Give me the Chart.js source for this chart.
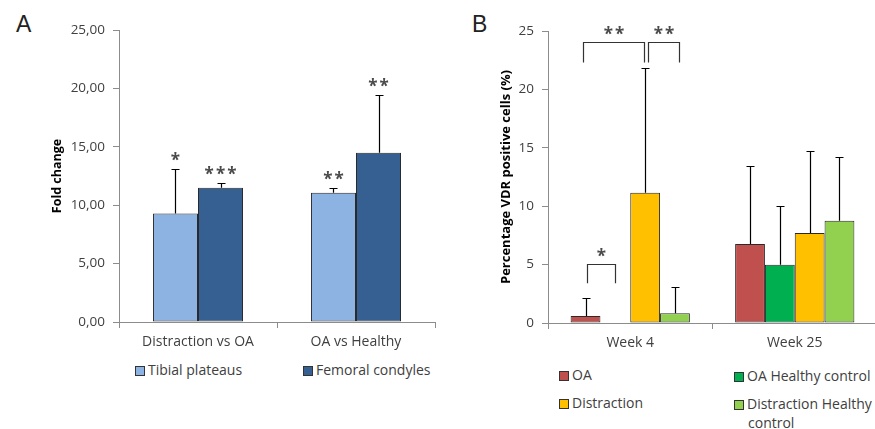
<!DOCTYPE html>
<html>
<head>
<meta charset="utf-8">
<script src="https://cdn.jsdelivr.net/npm/chart.js@4"></script>
<style>
  html, body { margin: 0; padding: 0; background: #fff; overflow: hidden; }
  body { width: 875px; height: 429px; position: relative; font-family: "Open Sans", sans-serif; color: #404040; }
  .panel { position: absolute; top: 0; height: 360px; }
  .letter { position: absolute; font-family: "Liberation Sans", Arial, sans-serif; font-size: 23px; color: #222; }
  .leg { position: absolute; font-size: 14px; line-height: 16px; white-space: nowrap; }
  .leg i { display: inline-block; width: 8px; height: 8px; border: 1px solid #333; margin-right: 3px; vertical-align: -1px; }
</style>
</head>
<body>

<div class="letter" style="left:16px; top:11px;">A</div>
<div class="letter" style="left:472px; top:11px;">B</div>

<div class="panel" style="left:0; width:440px;"><canvas id="chartA"></canvas></div>
<div class="panel" style="left:440px; width:440px;"><canvas id="chartB"></canvas></div>

<div id="legendA"></div>
<div id="legendB"></div>

<script>
// Panel A: fold change
const groupsA = ["Distraction vs OA", "OA vs Healthy"];
const tibial = [9.3, 11.07];
const tibialSd = [3.77, 0.43];
const femoral = [11.5, 14.5];
const femoralSd = [0.43, 4.93];
const tibialStars = ["*", "**"];
const femoralStars = ["***", "**"];

// Panel B: percentage VDR positive cells
const groupsB = ["Week 4", "Week 25"];
const oa = [0.6, 6.76];
const oaSd = [1.57, 6.71];
const oaHealthy = [null, 4.99];
const oaHealthySd = [null, 5.03];
const distraction = [11.16, 7.71];
const distractionSd = [10.7, 6.99];
const distHealthy = [0.83, 8.76];
const distHealthySd = [2.28, 5.43];

// significance brackets in panel B: [dataset, category] ends, heights in axis units
const bracketsB = [
  { from: [0, 0], to: [2, 0], top: 24.05, legs: 22.3, label: "**", nudge: [-3, -1] },
  { from: [2, 0], to: [3, 0], top: 24.05, legs: 22.3, label: "**", nudge: [3, 4] },
  { from: [0, 0], to: [1, 0], top: 5.05, legs: 3.4, label: "*", nudge: [1, 0] }
];

const TEXT = "#404040";
const AXIS = "#8c8c8c";

function drawStar(ctx, text, x, cy) {
  ctx.save();
  ctx.fillStyle = "#4a4a4a";
  ctx.font = "bold 17px 'Open Sans'";
  ctx.letterSpacing = "2px";
  ctx.textAlign = "center";
  ctx.textBaseline = "alphabetic";
  ctx.fillText(text, x + 1, cy + 0.56 * 17);
  ctx.restore();
}

const errorBars = {
  id: "errorBars",
  afterDatasetsDraw(chart) {
    const ctx = chart.ctx;
    const y = chart.scales.y;
    ctx.save();
    ctx.strokeStyle = "#000";
    ctx.lineWidth = 1.2;
    chart.data.datasets.forEach((ds, i) => {
      const meta = chart.getDatasetMeta(i);
      meta.data.forEach((bar, j) => {
        const v = ds.data[j];
        const sd = ds.sd[j];
        if (v == null || sd == null) return;
        const top = Math.round(y.getPixelForValue(v + sd)) + 0.5;
        const x = Math.round(bar.x) + 0.5;
        ctx.beginPath();
        ctx.moveTo(x, bar.y);
        ctx.lineTo(x, top);
        ctx.moveTo(x - 4, top);
        ctx.lineTo(x + 4, top);
        ctx.stroke();
        if (ds.stars) drawStar(ctx, ds.stars[j], bar.x, top - 13);
      });
    });
    ctx.restore();
  }
};

const brackets = {
  id: "brackets",
  afterDatasetsDraw(chart, args, opts) {
    if (!opts.list) return;
    const ctx = chart.ctx;
    const y = chart.scales.y;
    ctx.save();
    ctx.strokeStyle = "#333";
    ctx.lineWidth = 1.2;
    opts.list.forEach(b => {
      const x1 = Math.round(chart.getDatasetMeta(b.from[0]).data[b.from[1]].x + b.nudge[0]) + 0.5;
      const x2 = Math.round(chart.getDatasetMeta(b.to[0]).data[b.to[1]].x + b.nudge[1]) + 0.5;
      const yt = Math.round(y.getPixelForValue(b.top)) + 0.5;
      const yl = y.getPixelForValue(b.legs);
      ctx.beginPath();
      ctx.moveTo(x1, yl);
      ctx.lineTo(x1, yt);
      ctx.lineTo(x2, yt);
      ctx.lineTo(x2, yl);
      ctx.stroke();
      drawStar(ctx, b.label, (x1 + x2) / 2, yt - 12);
    });
    ctx.restore();
  }
};

function makeOptions(cfg) {
  return {
    responsive: true,
    maintainAspectRatio: false,
    animation: false,
    layout: { padding: { left: 0, right: cfg.padRight, top: cfg.padTop, bottom: 0 } },
    plugins: {
      legend: { display: false },
      tooltip: { enabled: false },
      brackets: { list: cfg.brackets }
    },
    scales: {
      x: {
        grid: { display: true, drawOnChartArea: false, tickLength: 6, color: AXIS, offset: true },
        border: { color: AXIS },
        ticks: { color: TEXT, font: { family: "Open Sans", size: 14 }, padding: 6 },
        afterFit(s) { s.height = cfg.xHeight; }
      },
      y: {
        min: 0, max: 25,
        grid: { display: true, drawOnChartArea: false, tickLength: 6, color: AXIS },
        border: { color: AXIS },
        ticks: {
          stepSize: 5, color: TEXT, padding: 8,
          font: { family: "Open Sans", size: 13.5 },
          callback: cfg.tickFormat
        },
        title: {
          display: true, text: cfg.yTitle, color: "#000",
          font: { family: "Open Sans", size: cfg.titleSize, weight: "bold" },
          padding: { top: cfg.titlePad, bottom: 0 }
        },
        afterFit(s) { s.width = cfg.yWidth; }
      }
    }
  };
}

function barSet(label, data, sd, color, stars) {
  return {
    label: label, data: data, sd: sd, stars: stars,
    backgroundColor: color, borderColor: "#2a2a2a", borderWidth: 1, borderSkipped: false
  };
}

new Chart(document.getElementById("chartA"), {
  type: "bar",
  data: {
    labels: groupsA,
    datasets: [
      barSet("Tibial plateaus", tibial, tibialSd, "#8db3e2", tibialStars),
      barSet("Femoral condyles", femoral, femoralSd, "#376092", femoralStars)
    ].map(d => Object.assign(d, { categoryPercentage: 0.57, barPercentage: 1 }))
  },
  options: makeOptions({
    padTop: 30, padRight: 5, xHeight: 38, yWidth: 119, titlePad: 50, titleSize: 12.5,
    yTitle: "Fold change",
    tickFormat: v => v.toFixed(2).replace(".", ",")
  }),
  plugins: [errorBars, brackets]
});

new Chart(document.getElementById("chartB"), {
  type: "bar",
  data: {
    labels: groupsB,
    datasets: [
      barSet("OA", oa, oaSd, "#c0504d"),
      barSet("OA Healthy control", oaHealthy, oaHealthySd, "#00b050"),
      barSet("Distraction", distraction, distractionSd, "#ffc000"),
      barSet("Distraction Healthy control", distHealthy, distHealthySd, "#92d050")
    ].map(d => Object.assign(d, { categoryPercentage: 0.725, barPercentage: 1 }))
  },
  options: makeOptions({
    padTop: 31, padRight: 3, xHeight: 37, yWidth: 108, titlePad: 58, titleSize: 13,
    yTitle: "Percentage VDR positive cells (%)",
    tickFormat: v => String(v),
    brackets: bracketsB
  }),
  plugins: [errorBars, brackets]
});

// html legends
function legendItem(parent, text, color, left, top, extra) {
  const d = document.createElement("div");
  d.className = "leg";
  d.style.left = left + "px";
  d.style.top = top + "px";
  d.innerHTML = '<i style="background:' + color + '"></i>' + text + (extra || "");
  parent.appendChild(d);
}
const legA = document.getElementById("legendA");
legendItem(legA, "Tibial plateaus", "#8db3e2", 135, 362);
legendItem(legA, "Femoral condyles", "#376092", 303, 362);
const legB = document.getElementById("legendB");
legendItem(legB, "OA", "#c0504d", 559, 367);
legendItem(legB, "Distraction", "#ffc000", 559, 395);
legendItem(legB, "OA Healthy control", "#00b050", 734, 368);
legendItem(legB, "Distraction Healthy", "#92d050", 734, 396,
  '<br><span style="padding-left:14px; line-height:21px">control</span>');
</script>
</body>
</html>
